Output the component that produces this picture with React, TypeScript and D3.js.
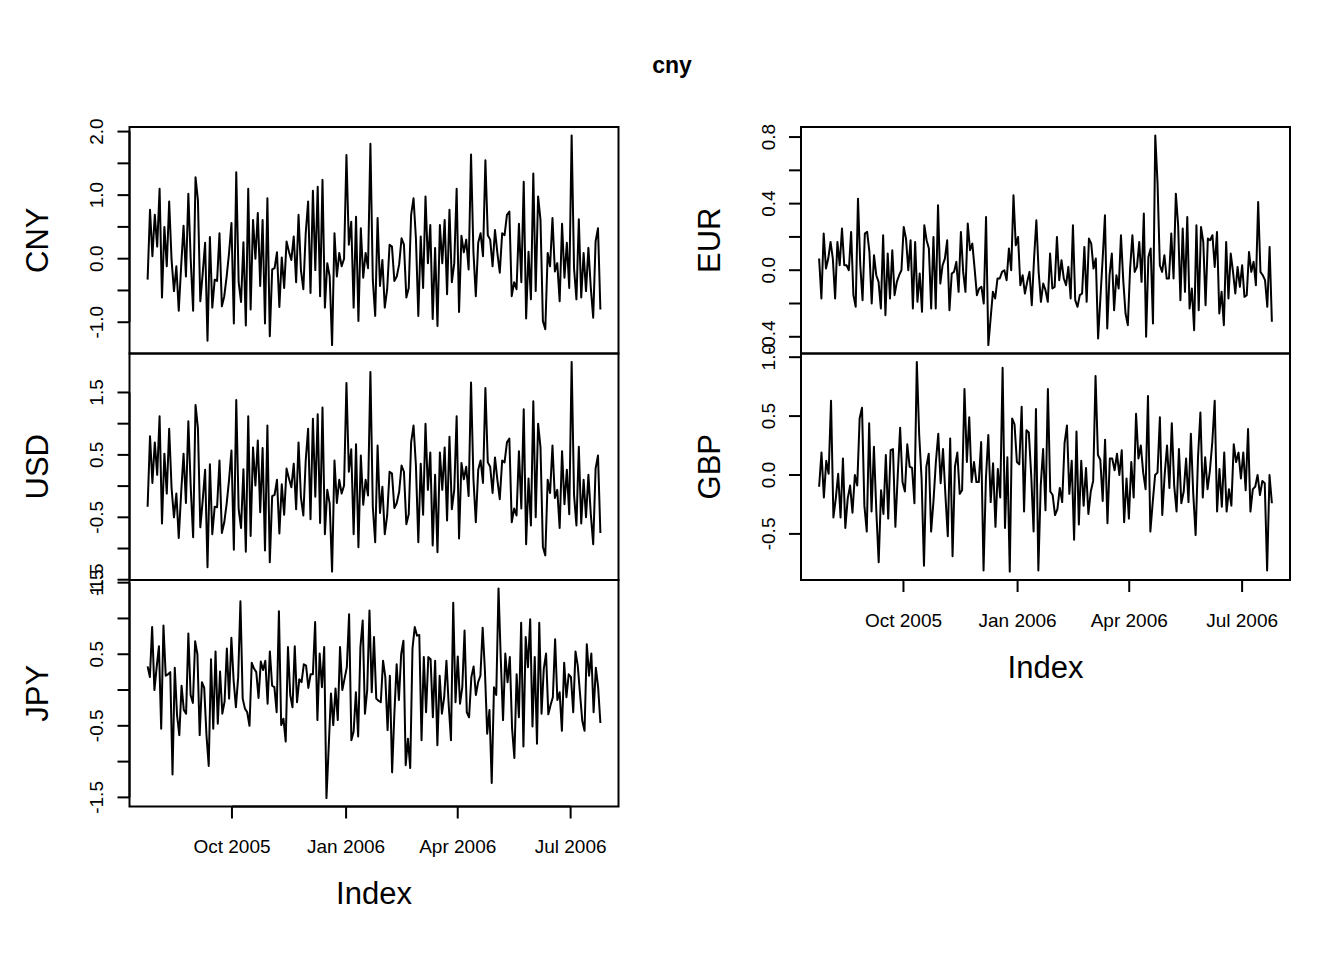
import React from "react";
import * as d3 from "d3";

const startDate = new Date(2005, 6, 25);
const endDate = new Date(2006, 6, 25);
const xTickDates = [new Date(2005, 9, 1), new Date(2006, 0, 1), new Date(2006, 3, 1), new Date(2006, 6, 1)];
const chartTitle = "cny";
const xTitle = "Index";

const cny = [
  -0.33, 0.77, 0.04, 0.69, 0.19, 1.10, -0.61, 0.50, -0.12, 0.90, -0.02, -0.51, -0.12, -0.82, -0.12, 0.52, -0.28, 1.02, -0.02, -0.82,
  1.28, 0.92, -0.67, -0.23, 0.25, -1.29, 0.34, -0.77, -0.33, -0.35, 0.40, -0.75, -0.59, -0.28, 0.09, 0.56, -1.02, 1.36, -0.37, -0.68,
  0.26, -1.05, 1.10, -0.80, 0.61, 0.00, 0.72, -0.43, 0.61, -1.02, 0.95, -1.22, -0.17, -0.15, 0.10, -0.76, 0.02, -0.46, 0.27, 0.11,
  -0.02, 0.35, -0.37,
  0.69, -0.18, -0.48, 0.40, 0.90, -0.54, 1.07, -0.18, 1.13, -0.59, 1.24, -0.77, -0.07, -0.28, -1.36, 0.40, -0.28, 0.09, -0.12, 0.00,
  1.63, 0.22, 0.58, -0.77, 0.66, -0.98, 0.48, -0.30, 0.09, -0.15, 1.81, -0.33, -0.90, 0.64, -0.43, -0.02, -0.77, -0.48, 0.22, 0.19,
  -0.35, -0.28, -0.09, 0.32, 0.22, -0.61, -0.46, 0.69, 0.95, 0.32, -0.90, 0.35, -0.46, 0.98, -0.07, 0.53, -0.95, 0.17, -1.06, 0.53,
  -0.07, 0.61, -0.56, 0.77, -0.37, -0.07,
  1.10, -0.84, 0.36, 0.10, 0.30, -0.17, 1.64, 0.11, -0.59, 0.25, 0.40, 0.04, 1.55, 0.37, 0.30, -0.12, 0.45, 0.09, -0.22, 0.40,
  0.37, 0.69, 0.74, -0.59, -0.37, -0.48, 0.55, -0.37, 1.21, -0.94, 0.11, -0.64, 1.34, -0.51, 0.98, 0.61, -0.98, -1.11, 0.09, -0.12,
  0.64, -0.20, -0.07, -0.67, 0.55, -0.30, 0.25, -0.46, 1.94, -0.15, -0.64, 0.62, -0.61, 0.09, -0.51, 0.17, -0.46, -0.93, 0.27, 0.48, -0.80,
];

const usd = [
  -0.33, 0.80, 0.05, 0.70, 0.18, 1.12, -0.60, 0.52, -0.12, 0.92, -0.03, -0.50, -0.12, -0.83, -0.11, 0.52, -0.27, 1.04, -0.02, -0.82,
  1.30, 0.93, -0.66, -0.23, 0.26, -1.30, 0.35, -0.77, -0.33, -0.34, 0.41, -0.75, -0.58, -0.28, 0.10, 0.57, -1.02, 1.38, -0.37, -0.67,
  0.27, -1.05, 1.12, -0.80, 0.62, 0.01, 0.73, -0.42, 0.61, -1.03, 0.97, -1.22, -0.16, -0.14, 0.10, -0.76, 0.03, -0.46, 0.28, 0.12,
  -0.02, 0.36, -0.37,
  0.70, -0.18, -0.47, 0.41, 0.92, -0.53, 1.08, -0.17, 1.15, -0.59, 1.26, -0.77, -0.06, -0.28, -1.37, 0.41, -0.27, 0.10, -0.12, 0.01,
  1.65, 0.23, 0.59, -0.77, 0.67, -0.98, 0.49, -0.30, 0.10, -0.15, 1.83, -0.33, -0.90, 0.65, -0.43, -0.01, -0.77, -0.47, 0.23, 0.20,
  -0.35, -0.27, -0.09, 0.33, 0.23, -0.61, -0.45, 0.70, 0.97, 0.33, -0.90, 0.36, -0.46, 1.00, -0.06, 0.54, -0.95, 0.18, -1.06, 0.54,
  -0.06, 0.62, -0.55, 0.79, -0.37, -0.06,
  1.12, -0.84, 0.37, 0.11, 0.31, -0.16, 1.66, 0.12, -0.58, 0.26, 0.41, 0.05, 1.57, 0.38, 0.31, -0.11, 0.46, 0.10, -0.21, 0.41,
  0.38, 0.70, 0.76, -0.58, -0.36, -0.47, 0.56, -0.36, 1.23, -0.93, 0.12, -0.63, 1.36, -0.50, 1.00, 0.62, -0.97, -1.11, 0.10, -0.11,
  0.65, -0.19, -0.06, -0.67, 0.56, -0.29, 0.26, -0.45, 1.99, -0.14, -0.63, 0.63, -0.60, 0.10, -0.50, 0.18, -0.45, -0.93, 0.28, 0.49, -0.75,
];

const jpy = [
  0.33, 0.18, 0.88, 0.00, 0.32, 0.61, -0.54, 0.90, 0.20, 0.22, 0.25, -1.18, 0.31, -0.35, -0.63, 0.06, -0.28, -0.33, 0.79, -0.07,
  -0.18, 0.68, 0.50, -0.63, 0.11, 0.03, -0.63, -1.06, 0.43, -0.54, 0.54, -0.47, 0.26, -0.33, -0.16, 0.58, -0.12, 0.73, 0.13, -0.24,
  0.18, 1.24, -0.12, -0.26, -0.31, -0.50, 0.38, 0.30, 0.25, -0.11, 0.40, 0.28, 0.41, -0.19, 0.54, 0.06, 0.04, -0.31, 1.10, -0.49,
  -0.40, -0.72, 0.60, -0.07, -0.24, 0.61, -0.17, 0.15, 0.11,
  0.36, 0.34, 0.03, 0.22, 0.22, 0.95, -0.42, 0.51, 0.04, 0.60, -1.51, -0.79, -0.05, -0.49, 0.02, -0.42, 0.60, 0.00, 0.16, 0.32,
  1.06, -0.70, -0.58, -0.03, -0.65, 0.60, 0.97, -0.33, 0.00, 1.11, -0.03, 0.74, -0.12, -0.15, -0.17, 0.41, 0.18, -0.56, 0.20, -1.15,
  -0.33, 0.36, -0.14, 0.50, 0.69, -1.05, -0.68, -1.09, 0.58, 0.88, 0.76, 0.77, -0.70, 0.46, -0.31, 0.46, 0.43, -0.38, 0.41, -0.77,
  0.20, -0.33, -0.10, 0.41, -0.21, -0.70, 1.22, -0.17, 0.47, -0.19, 0.04,
  0.83, -0.31, -0.38, 0.18, 0.33, -0.07, 0.11, 0.20, 0.87, 0.27, -0.61, -0.28, -1.30, 0.04, -0.07, 1.42, 0.43, -0.42, 0.51, 0.11,
  0.46, -0.54, -0.95, 0.22, -0.38, 0.94, -0.79, 0.74, 0.32, 0.99, -0.51, 0.46, -0.75, 0.94, -0.33, 0.30, 0.51, -0.34, -0.21, -0.10,
  0.71, -0.14, -0.03, -0.57, 0.38, -0.10, 0.22, 0.18, -0.31, 0.54, 0.34, -0.05, -0.43, -0.57, 0.64, 0.20, 0.51, -0.31, 0.31, 0.04, -0.46,
];

const eur = [
  0.07, -0.17, 0.22, 0.01, 0.07, 0.17, 0.07, -0.17, 0.17, 0.03, 0.25, 0.03, 0.03, 0.00, 0.23, -0.15, -0.22, 0.43, 0.03, -0.18,
  0.22, 0.23, 0.11, -0.20, 0.09, -0.03, -0.07, -0.23, 0.21, -0.27, 0.10, -0.17, 0.12, -0.15, -0.07, -0.03, 0.00, 0.26, 0.19, 0.00,
  0.18, -0.23, 0.17, -0.19, -0.02, -0.25, 0.27, 0.18, 0.13, -0.23, 0.20, -0.23, 0.39, -0.08, 0.03, 0.07, 0.18, -0.24, -0.02, -0.01,
  0.05, -0.13, 0.23, -0.01, -0.13, 0.28, 0.12, 0.16, 0.01, -0.15, -0.11, -0.10, -0.20, 0.32, -0.45, -0.29, -0.13, -0.17, -0.05, -0.05,
  -0.01, 0.00, -0.06, 0.13, 0.00, 0.45, 0.15, 0.20, -0.09, -0.03, -0.14, -0.07, -0.01, -0.21,
  0.07, 0.30, -0.01, -0.19, -0.08, -0.12, -0.19, 0.10, -0.11, -0.10, 0.20, -0.06, 0.06, -0.05, -0.09, 0.02, -0.17, 0.27, -0.18, -0.22,
  -0.15, -0.14, 0.14, -0.19, 0.19, 0.16, 0.01, 0.07, -0.41, -0.17, 0.07, 0.33, -0.35, -0.03, 0.10, -0.24, -0.03, -0.11, 0.21, -0.06,
  -0.26, -0.33, 0.01, 0.21, -0.01, 0.02, 0.17, -0.07, 0.34, -0.40, 0.08, 0.13, -0.32, 0.81, 0.52, 0.03, -0.01, 0.09, -0.05, -0.05,
  0.22, -0.05, 0.46, 0.27, -0.18, 0.25, -0.13, 0.32, -0.23, -0.11, -0.36, 0.27, -0.24, 0.26, 0.17, -0.21, 0.19, 0.18, 0.21, 0.02,
  0.23, -0.26, -0.13, -0.33, 0.17, -0.17, 0.10, -0.01, -0.14, 0.02, -0.10, 0.03, -0.16, -0.15, 0.11, -0.01, 0.05, -0.09, 0.41, -0.01,
  -0.03, -0.06, -0.22, 0.14, -0.31,
];

const gbp = [
  -0.10, 0.19, -0.19, 0.12, 0.01, 0.63, -0.36, -0.20, 0.01, -0.36, 0.14, -0.45, -0.20, -0.09, -0.32, 0.00, -0.09, 0.48, 0.57, -0.26,
  -0.48, 0.44, -0.31, 0.24, -0.30, -0.74, -0.13, -0.33, 0.17, -0.37, 0.21, 0.22, -0.44, 0.00, 0.40, -0.06, -0.14, 0.26, 0.07, 0.06,
  -0.24, 0.96, 0.34, -0.03, -0.77, 0.07, 0.18, -0.48, -0.22, 0.11, 0.35, -0.07, 0.22, -0.17, -0.52, 0.31, -0.69, 0.07, 0.19, -0.16,
  -0.13, 0.73, 0.11, 0.49, -0.06, 0.11, -0.06, -0.06, 0.28, -0.81, -0.03, 0.34, -0.23, 0.10, -0.44, 0.05, -0.19, 0.91, -0.45, 0.15,
  -0.82, 0.48, 0.43, 0.11, 0.09, 0.58, -0.31, 0.38, 0.36, 0.00, -0.48, 0.56, -0.81, -0.09, 0.22, -0.30, 0.73, -0.14, -0.17, -0.34,
  -0.29, -0.11, -0.23, 0.27, 0.42, -0.16, 0.12, -0.55, 0.37, -0.42, 0.12, -0.26, 0.06, -0.33, -0.14, -0.05, 0.84, 0.17, 0.13, -0.22,
  0.30, -0.41, 0.14, 0.14, 0.04, 0.18, 0.00, 0.21, -0.40, -0.03, -0.37, 0.11, -0.19, 0.52, 0.14, 0.25, 0.02, -0.12, 0.67, -0.48,
  -0.23, 0.00, 0.02, 0.49, -0.34, 0.00, 0.25, -0.11, 0.44, -0.09, -0.31, 0.22, -0.24, -0.14, 0.14, -0.23, 0.35, -0.16, -0.51, 0.15,
  0.53, -0.19, 0.15, -0.12, 0.04, 0.28, 0.63, -0.31, 0.05, -0.27, 0.19, -0.31, -0.12, -0.26, 0.26, 0.11, 0.19, -0.03, 0.19, -0.13,
  0.39, -0.31, -0.12, -0.10, 0.00, -0.17, -0.05, -0.07, -0.81, 0.00, -0.24,
];

const cnyTicks = [-1, -0.5, 0, 0.5, 1, 1.5, 2];
const cnyLabelled = [-1, 0, 1, 2];
const usdTicks = [-1.5, -1, -0.5, 0, 0.5, 1, 1.5];
const usdLabelled = [-1.5, -0.5, 0.5, 1.5];
const jpyTicks = [-1.5, -1, -0.5, 0, 0.5, 1, 1.5];
const jpyLabelled = [-1.5, -0.5, 0.5, 1.5];
const eurTicks = [-0.4, -0.2, 0, 0.2, 0.4, 0.6, 0.8];
const eurLabelled = [-0.4, 0, 0.4, 0.8];
const gbpTicks = [-0.5, 0, 0.5, 1];
const gbpLabelled = [-0.5, 0, 0.5, 1];

const FONT = "'Liberation Sans', Arial, Helvetica, sans-serif";

type Panel = {
  name: string;
  values: number[];
  ticks: number[];
  labelled: number[];
  col: number;
  row: number;
  bottom: boolean;
};

const panels: Panel[] = [
  { name: "CNY", values: cny, ticks: cnyTicks, labelled: cnyLabelled, col: 0, row: 0, bottom: false },
  { name: "USD", values: usd, ticks: usdTicks, labelled: usdLabelled, col: 0, row: 1, bottom: false },
  { name: "JPY", values: jpy, ticks: jpyTicks, labelled: jpyLabelled, col: 0, row: 2, bottom: true },
  { name: "EUR", values: eur, ticks: eurTicks, labelled: eurLabelled, col: 1, row: 0, bottom: false },
  { name: "GBP", values: gbp, ticks: gbpTicks, labelled: gbpLabelled, col: 1, row: 1, bottom: true },
];

const colX = [
  [129.5, 618.5],
  [801, 1290],
];
const rowTop = 127;
const panelH = 226.5;
const tickFont = 19;
const titleFont = 31;

const fmt = (v: number) => d3.format(".1f")(v).replace("\u2212", "-");

function datesFor(n: number): Date[] {
  const t0 = startDate.getTime();
  const t1 = endDate.getTime();
  return d3.range(n).map((i) => new Date(t0 + ((t1 - t0) * i) / (n - 1)));
}

function PanelView({ p }: { p: Panel }) {
  const [x0, x1] = colX[p.col];
  const y0 = rowTop + p.row * panelH;
  const y1 = y0 + panelH;
  const span = endDate.getTime() - startDate.getTime();
  const x = d3
    .scaleTime()
    .domain([new Date(startDate.getTime() - span * 0.04), new Date(endDate.getTime() + span * 0.04)])
    .range([x0, x1]);
  const [mn, mx] = d3.extent(p.values) as [number, number];
  const ext = (mx - mn) * 0.04;
  const y = d3.scaleLinear().domain([mn - ext, mx + ext]).range([y1, y0]);
  const dates = datesFor(p.values.length);
  const line = d3
    .line<number>()
    .x((_, i) => x(dates[i]))
    .y((v) => y(v));
  const tickLen = 12;
  const labelX = x0 - 33;
  const titleX = x0 - 92;
  const fmtDate = d3.timeFormat("%b %Y");
  return (
    <g>
      <path d={line(p.values) || ""} fill="none" stroke="#000" strokeWidth={2} strokeLinejoin="round" />
      <rect x={x0} y={y0} width={x1 - x0} height={y1 - y0} fill="none" stroke="#000" strokeWidth={2} />
      <line x1={x0} x2={x0} y1={y(p.ticks[0])} y2={y(p.ticks[p.ticks.length - 1])} stroke="#000" strokeWidth={2} />
      {p.ticks.map((t) => (
        <line key={"t" + t} x1={x0 - tickLen} x2={x0} y1={y(t)} y2={y(t)} stroke="#000" strokeWidth={2} />
      ))}
      {p.labelled.map((t) => (
        <text
          key={"l" + t}
          transform={`translate(${labelX},${y(t)}) rotate(-90)`}
          textAnchor="middle"
          dominantBaseline="central"
          fontFamily={FONT}
          fontSize={tickFont}
        >
          {fmt(t)}
        </text>
      ))}
      <text
        transform={`translate(${titleX},${(y0 + y1) / 2}) rotate(-90)`}
        textAnchor="middle"
        dominantBaseline="central"
        fontFamily={FONT}
        fontSize={titleFont}
      >
        {p.name}
      </text>
      {p.bottom && (
        <g>
          <line x1={x(xTickDates[0])} x2={x(xTickDates[xTickDates.length - 1])} y1={y1} y2={y1} stroke="#000" strokeWidth={2} />
          {xTickDates.map((d, i) => (
            <g key={"x" + i}>
              <line x1={x(d)} x2={x(d)} y1={y1} y2={y1 + tickLen} stroke="#000" strokeWidth={2} />
              <text x={x(d)} y={y1 + 40} textAnchor="middle" dominantBaseline="central" fontFamily={FONT} fontSize={tickFont}>
                {fmtDate(d)}
              </text>
            </g>
          ))}
          <text
            x={(x0 + x1) / 2}
            y={y1 + 87}
            textAnchor="middle"
            dominantBaseline="central"
            fontFamily={FONT}
            fontSize={titleFont}
          >
            {xTitle}
          </text>
        </g>
      )}
    </g>
  );
}

export default function App() {
  return (
    <svg
      width={1344}
      height={960}
      viewBox="0 0 1344 960"
      style={{ position: "absolute", left: 0, top: 0, background: "#fff" }}
    >
      <rect x={0} y={0} width={1344} height={960} fill="#fff" />
      <text x={672} y={65} textAnchor="middle" dominantBaseline="central" fontFamily={FONT} fontSize={23} fontWeight="bold">
        {chartTitle}
      </text>
      {panels.map((p) => (
        <PanelView key={p.name} p={p} />
      ))}
    </svg>
  );
}
